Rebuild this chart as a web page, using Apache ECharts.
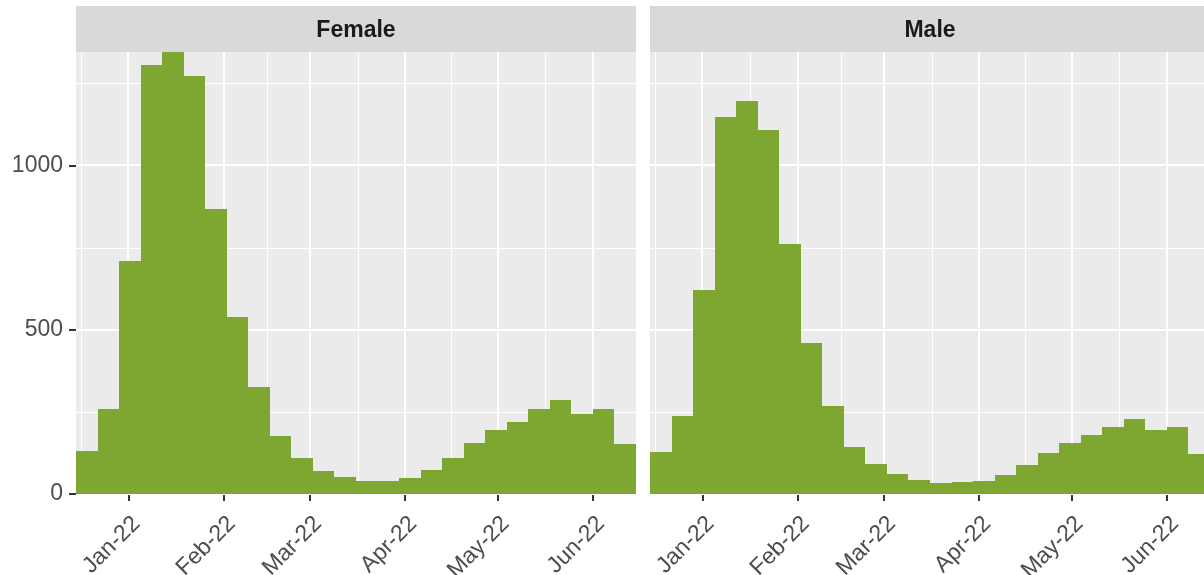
<!DOCTYPE html>
<html>
<head>
<meta charset="utf-8">
<script src="https://cdn.jsdelivr.net/npm/echarts@6/dist/echarts.min.js"></script>
<style>
  html, body { margin: 0; padding: 0; background: #fff; }
  #chart { width: 1204px; height: 575px; }
</style>
</head>
<body>
<div id="chart"></div>
<script>
// weekly bins (edges), one more edge than bars
var binEdges = ['2021-12-15', '2021-12-22', '2021-12-29', '2022-01-05', '2022-01-12', '2022-01-19', '2022-01-26',
  '2022-02-02', '2022-02-09', '2022-02-16', '2022-02-23', '2022-03-02', '2022-03-09', '2022-03-16', '2022-03-23',
  '2022-03-30', '2022-04-06', '2022-04-13', '2022-04-20', '2022-04-27', '2022-05-04', '2022-05-11', '2022-05-18',
  '2022-05-25', '2022-06-01', '2022-06-08', '2022-06-15'];
var femaleCounts = [131, 259, 709, 1305, 1345, 1273, 867, 539, 325, 177, 110, 70, 51, 41, 40, 50, 72, 110, 154, 195, 220, 260, 287, 244, 260, 153];
var maleCounts = [127, 238, 622, 1147, 1196, 1107, 760, 460, 269, 144, 92, 61, 42, 33, 36, 40, 58, 89, 126, 155, 180, 205, 229, 195, 203, 121];
var panelNames = ['Female', 'Male'];
var monthTicks = ['2022-01-01', '2022-02-01', '2022-03-01', '2022-04-01', '2022-05-01', '2022-06-01'];
var monthMinor = ['2021-12-16 12:00', '2022-01-16 12:00', '2022-02-15', '2022-03-16 12:00', '2022-04-16', '2022-05-16 12:00'];
var yMajor = [0, 500, 1000];
var yMinor = [250, 750, 1250];
var yMax = 1345;
var monthNames = ['Jan', 'Feb', 'Mar', 'Apr', 'May', 'Jun', 'Jul', 'Aug', 'Sep', 'Oct', 'Nov', 'Dec'];

var myChart = echarts.init(document.getElementById('chart'));
var parse = function (s) { return echarts.time.parse(s).getTime(); };
var xMin = parse(binEdges[0]);
var xMax = parse(binEdges[binEdges.length - 1]);
var FONT = '"Liberation Sans", Arial, sans-serif';

function binData(counts) {
  var out = [];
  for (var i = 0; i < counts.length; i++) {
    out.push([parse(binEdges[i]), parse(binEdges[i + 1]), counts[i]]);
  }
  return out;
}

function vLines(w) {
  return function (params, api) {
    var cs = params.coordSys;
    var x = Math.round(api.coord([api.value(0), 0])[0]) + (w % 2 ? 0.5 : 0);
    return { type: 'line', shape: { x1: x, y1: cs.y, x2: x, y2: cs.y + cs.height },
      style: { stroke: '#ffffff', lineWidth: w } };
  };
}
function hLines(w) {
  return function (params, api) {
    var cs = params.coordSys;
    var y = Math.round(api.coord([api.value(0), api.value(1)])[1]) + (w % 2 ? 0.5 : 0);
    return { type: 'line', shape: { x1: cs.x, y1: y, x2: cs.x + cs.width, y2: y },
      style: { stroke: '#ffffff', lineWidth: w } };
  };
}
function renderBar(params, api) {
  var p0 = api.coord([api.value(0), api.value(2)]);
  var p1 = api.coord([api.value(1), 0]);
  var x0 = Math.round(p0[0]), x1 = Math.round(p1[0]);
  var y0 = Math.round(p0[1]), y1 = Math.round(p1[1]);
  return { type: 'rect', shape: { x: x0, y: y0, width: x1 - x0, height: y1 - y0 },
    style: { fill: '#7da731' } };
}

var grids = [], xAxes = [], yAxes = [], series = [], graphics = [];
var lefts = [76, 650];
var allCounts = [femaleCounts, maleCounts];
var tickNums = monthTicks.map(parse);

for (var k = 0; k < 2; k++) {
  grids.push({ left: lefts[k], top: 52, width: 560, height: 442, show: true,
    backgroundColor: '#ebebeb', borderWidth: 0, outerBoundsMode: 'none' });
  xAxes.push({
    type: 'value', gridIndex: k, min: xMin, max: xMax, scale: true,
    axisLine: { show: false },
    splitLine: { show: false },
    axisTick: { show: true, customValues: tickNums, length: 7, lineStyle: { color: '#333333', width: 2 } },
    axisLabel: {
      customValues: tickNums, rotate: 45, margin: 18, verticalAlign: 'top',
      color: '#4d4d4d', fontSize: 23, fontFamily: FONT,
      formatter: function (val) {
        var d = new Date(val);
        return monthNames[d.getMonth()] + '-' + String(d.getFullYear()).slice(2);
      }
    }
  });
  yAxes.push({
    type: 'value', gridIndex: k, min: 0, max: yMax, interval: 500,
    axisLine: { show: false },
    splitLine: { show: false },
    axisTick: { show: k === 0, length: 7, lineStyle: { color: '#333333', width: 2 } },
    axisLabel: { show: k === 0, showMaxLabel: false, margin: 13, color: '#4d4d4d', fontSize: 23, fontFamily: FONT,
      formatter: function (v) { return String(v); } }
  });
  series.push({ type: 'custom', xAxisIndex: k, yAxisIndex: k, z: 1, silent: true, renderItem: vLines(1),
    data: monthMinor.map(function (s) { return [parse(s), 0]; }) });
  series.push({ type: 'custom', xAxisIndex: k, yAxisIndex: k, z: 1, silent: true, renderItem: hLines(1),
    data: yMinor.map(function (v) { return [xMin, v]; }) });
  series.push({ type: 'custom', xAxisIndex: k, yAxisIndex: k, z: 1, silent: true, renderItem: vLines(2),
    data: tickNums.map(function (t) { return [t, 0]; }) });
  series.push({ type: 'custom', xAxisIndex: k, yAxisIndex: k, z: 1, silent: true, renderItem: hLines(2),
    data: yMajor.map(function (v) { return [xMin, v]; }) });
  series.push({ type: 'custom', name: panelNames[k], xAxisIndex: k, yAxisIndex: k, z: 2,
    renderItem: renderBar, encode: { x: [0, 1], y: 2 }, data: binData(allCounts[k]) });

  // strip header
  graphics.push({ type: 'rect', left: lefts[k], top: 6, shape: { width: 560, height: 46 },
    style: { fill: '#d9d9d9' } });
  graphics.push({ type: 'text', x: lefts[k] + 280, y: 31,
    style: { text: panelNames[k], fill: '#1a1a1a', font: 'bold 23px ' + FONT, align: 'center', verticalAlign: 'middle' } });
}

var option = {
  animation: false,
  backgroundColor: '#ffffff',
  grid: grids,
  xAxis: xAxes,
  yAxis: yAxes,
  series: series,
  graphic: graphics
};
myChart.setOption(option);
</script>
</body>
</html>
